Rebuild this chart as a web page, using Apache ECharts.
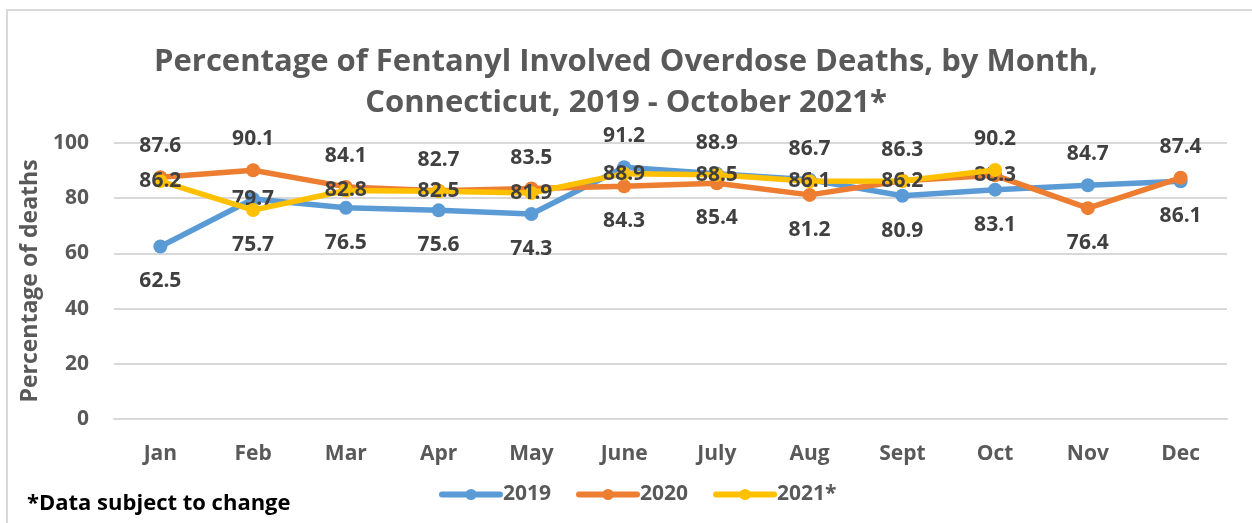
<!DOCTYPE html>
<html>
<head>
<meta charset="utf-8">
<script src="https://cdn.jsdelivr.net/npm/echarts@6/dist/echarts.min.js"></script>
<style>html,body{margin:0;padding:0;background:#fff}#c{width:1252px;height:523px}</style>
</head>
<body>
<div id="c"></div>
<script>
const months = ['Jan','Feb','Mar','Apr','May','June','July','Aug','Sept','Oct','Nov','Dec'];
const seriesNames = ['2019','2020','2021*'];
const values2019 = [62.5, 79.7, 76.5, 75.6, 74.3, 91.2, 88.9, 86.7, 80.9, 83.1, 84.7, 86.1];
const values2020 = [87.6, 90.1, 84.1, 82.7, 83.5, 84.3, 85.4, 81.2, 86.3, 88.3, 76.4, 87.4];
const values2021 = [86.2, 75.7, 82.8, 82.5, 81.9, 88.9, 88.5, 86.1, 86.2, 90.2, null, null];
const yTicks = [0, 20, 40, 60, 80, 100];

const allVals = [values2019, values2020, values2021];
const colors = ['#5B9BD5', '#ED7D31', '#FFC000'];
const FONT = 'Open Sans';

function labelOffset(si, mi) {
  const present = allVals.map((a, i) => ({ v: a[mi], i })).filter(o => o.v != null);
  present.sort((a, b) => b.v - a.v);
  const rank = present.findIndex(o => o.i === si);
  if (rank === 0) return [0, -31];
  if (rank === present.length - 1) return [0, 35];
  return [0, 0];
}

const series = allVals.map((arr, si) => ({
  name: seriesNames[si],
  type: 'line',
  data: arr.map((v, mi) => v == null ? null : {
    value: v,
    label: { offset: labelOffset(si, mi) }
  }),
  symbol: 'circle',
  symbolSize: 14,
  lineStyle: { width: 5.5, color: colors[si], cap: 'round' },
  itemStyle: { color: colors[si] },
  z: 2 + si,
  label: {
    show: true,
    position: 'inside',
    fontFamily: FONT, fontWeight: 'bold', fontSize: 21, color: '#404040',
    formatter: p => Number(p.value).toFixed(1)
  }
}));

const chart = echarts.init(document.getElementById('c'));
chart.setOption({
  animation: false,
  backgroundColor: '#fff',
  title: {
    text: 'Percentage of Fentanyl Involved Overdose Deaths, by Month,\nConnecticut, 2019 - October 2021*',
    left: 'center', top: 37,
    textStyle: { fontFamily: FONT, fontWeight: 'bold', fontSize: 31, color: '#595959', lineHeight: 41 }
  },
  graphic: [
    { type: 'rect', shape: { x: 7, y: 10, width: 1270, height: 540 }, style: { fill: null, stroke: '#D9D9D9', lineWidth: 2 }, silent: true },
    { type: 'text', left: 27, top: 493, style: { text: '*Data subject to change', fontFamily: FONT, fontWeight: 'bold', fontSize: 22, fill: '#000' } }
  ],
  legend: {
    data: seriesNames,
    left: 434, top: 479,
    itemWidth: 58, itemHeight: 14, itemGap: 25,
    lineStyle: { width: 6, cap: 'round' },
    textStyle: { fontFamily: FONT, fontWeight: 'bold', fontSize: 21, color: '#595959', padding: [0,0,0,-2] }
  },
  grid: { left: 114, right: 25, top: 143, bottom: 104 },
  xAxis: {
    type: 'category', data: months, boundaryGap: true,
    axisLine: { show: true, lineStyle: { color: '#D9D9D9', width: 2 } },
    axisTick: { show: false },
    axisLabel: { margin: 25, fontFamily: FONT, fontWeight: 'bold', fontSize: 21, color: '#595959' }
  },
  yAxis: {
    type: 'value', min: yTicks[0], max: yTicks[yTicks.length - 1], interval: 20,
    name: 'Percentage of deaths', nameLocation: 'middle', nameGap: 72, nameRotate: 90,
    nameTextStyle: { fontFamily: FONT, fontWeight: 'bold', fontSize: 23, color: '#595959' },
    axisLine: { show: false }, axisTick: { show: false },
    splitLine: { lineStyle: { color: '#D9D9D9', width: 2 } },
    axisLabel: { margin: 25, fontFamily: FONT, fontWeight: 'bold', fontSize: 21, color: '#595959' }
  },
  series: series
});
</script>
</body>
</html>
